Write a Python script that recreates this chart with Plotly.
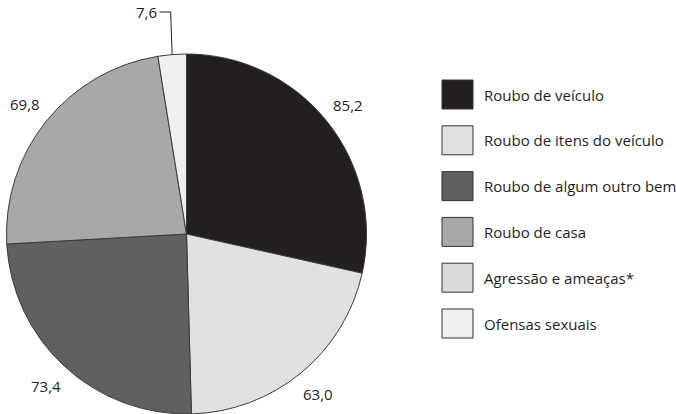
import math
import plotly.graph_objects as go

# Categories, values and colours
categorias = [
    "Roubo de veículo",
    "Roubo de itens do veículo",
    "Roubo de algum outro bem",
    "Roubo de casa",
    "Agressão e ameaças*",
    "Ofensas sexuais",
]
valores = [85.2, 63.0, 73.4, 69.8, None, 7.6]
cores = ["#231f20", "#e0e1e3", "#5f6062", "#a7a8aa", "#d9dadc", "#eeeff1"]

W, H = 676, 414
FONT = "Open Sans"

# Only categories with a value enter the pie
pie_lab = [c for c, v in zip(categorias, valores) if v is not None]
pie_val = [v for v in valores if v is not None]
pie_col = [c for c, v in zip(cores, valores) if v is not None]

# Pie geometry in pixels
cx, R = 186.5, 180.0
cy = H - R  # pie touches the bottom edge
dom_x = [(cx - R) / W, (cx + R) / W]
dom_y = [0.0, 2 * R / H]

fig = go.Figure(
    go.Pie(
        labels=pie_lab,
        values=pie_val,
        marker=dict(colors=pie_col, line=dict(color="#3a3a3a", width=1)),
        sort=False,
        direction="clockwise",
        rotation=0,
        textinfo="none",
        hoverinfo="label+value",
        showlegend=False,
        domain=dict(x=dom_x, y=dom_y),
    )
)


def px_to_paper(x, y):
    return x / W, 1 - y / H


def fmt(v):
    return f"{v:.1f}".replace(".", ",")


annotations = []
shapes = []

total = sum(pie_val)
acc = 0.0
for v in pie_val:
    mid = (acc + v / 2) / total * 2 * math.pi
    acc += v
    if v / total > 0.05:
        r = 207
        x = cx + r * math.sin(mid)
        y = cy - r * math.cos(mid)
        px, py = px_to_paper(x, y)
        annotations.append(dict(
            x=px, y=py, xref="paper", yref="paper", text=fmt(v),
            showarrow=False, xanchor="center", yanchor="middle",
            font=dict(family=FONT, size=15, color="#231f20"),
        ))
    else:
        # small slice: leader line up and to the left
        x0 = cx + R * math.sin(mid)
        y0 = cy - R * math.cos(mid)
        x1, y1 = x0 - 1.5, 12
        x2 = x1 - 11
        p0 = px_to_paper(x0, y0)
        p1 = px_to_paper(x1, y1)
        p2 = px_to_paper(x2, y1)
        shapes.append(dict(
            type="path", xref="paper", yref="paper",
            path=f"M {p0[0]} {p0[1]} L {p1[0]} {p1[1]} L {p2[0]} {p2[1]}",
            line=dict(color="#231f20", width=1),
        ))
        annotations.append(dict(
            x=p2[0] - 1 / W, y=p2[1], xref="paper", yref="paper", text=fmt(v),
            showarrow=False, xanchor="right", yanchor="middle",
            font=dict(family=FONT, size=15, color="#231f20"),
        ))

# Legend drawn as boxes with labels
box_x0, box_w, box_h = 442, 31, 29
row0, step = 80, 45.8
for i, (cat, col) in enumerate(zip(categorias, cores)):
    top = row0 + i * step
    a = px_to_paper(box_x0, top)
    b = px_to_paper(box_x0 + box_w, top + box_h)
    shapes.append(dict(
        type="rect", xref="paper", yref="paper",
        x0=a[0], y0=b[1], x1=b[0], y1=a[1],
        fillcolor=col, line=dict(color="#333333", width=1),
    ))
    tx, ty = px_to_paper(box_x0 + box_w + 9, top + box_h / 2)
    annotations.append(dict(
        x=tx, y=ty, xref="paper", yref="paper", text=cat,
        showarrow=False, xanchor="left", yanchor="middle",
        font=dict(family=FONT, size=15, color="#231f20"),
    ))

fig.update_layout(
    width=W, height=H,
    margin=dict(l=0, r=0, t=0, b=0),
    paper_bgcolor="white",
    plot_bgcolor="white",
    shapes=shapes,
    annotations=annotations,
)

fig.write_html("out.html")
